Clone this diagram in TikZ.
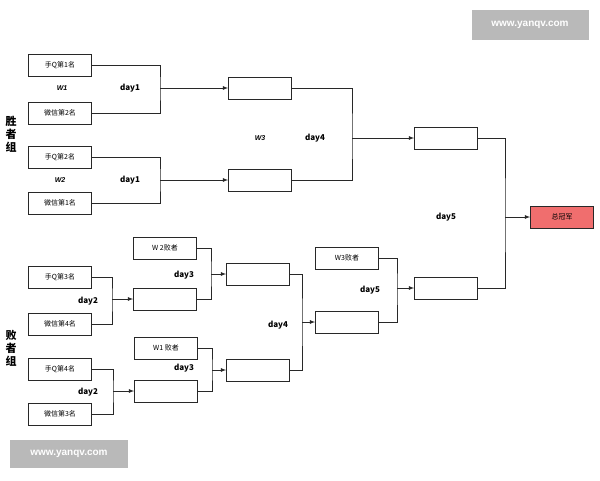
\documentclass[tikz,border=0pt]{standalone}
\usepackage{fontspec}
\setmainfont{Noto Sans CJK SC}
\newfontfamily\latina{Liberation Sans}
\usepackage{xcolor}
\usetikzlibrary{positioning}
\definecolor{Rojo}{RGB}{240, 110, 110}
\definecolor{Gris}{RGB}{185, 185, 185}
\definecolor{Linea}{RGB}{40, 40, 40}
\tikzset{
  caja/.style={draw=Linea, thick, minimum width=63pt, minimum height=22pt, inner sep=0pt, font=\fontsize{7}{8}\selectfont},
  dia/.style={font=\fontsize{8}{9}\selectfont\bfseries},
  juego/.style={font=\latina\fontsize{7}{8}\selectfont\bfseries\itshape},
  flecha/.style={draw=Linea, thick, -latex},
  rama/.style={draw=Linea, thick},
  marca/.style={fill=Gris, text=white, font=\latina\fontsize{10}{12}\selectfont\bfseries, minimum height=30pt}
}
\begin{document}
\begin{tikzpicture}[x=1pt, y=-1pt]
            \useasboundingbox (0,0) rectangle (600,480);
            %Grupo de ganadores
            \node[caja] (Q1) at (60,65) {手Q第1名};
            \node[caja] (X2) at (60,113) {微信第2名};
            \node[caja] (Q2) at (60,157) {手Q第2名};
            \node[caja] (X1) at (60,203) {微信第1名};
            \node[juego] (W1) at (62,88) {W1};
            \node[juego] (W2) at (60,180) {W2};
            \node[dia] (D1a) at (130,88) {day1};
            \node[dia] (D1b) at (130,180) {day1};
            \node[caja] (A) at (260,88) {};
            \node[caja] (B) at (260,180) {};
            \coordinate (jA) at (160,88);
            \coordinate (jB) at (160,180);
            \draw[rama] (Q1) -| (jA) |- (X2);
            \draw[rama] (Q2) -| (jB) |- (X1);
            \draw[flecha] (jA) -- (A);
            \draw[flecha] (jB) -- (B);
            \node[juego] (W3) at (260,138) {W3};
            \node[dia] (D4a) at (315,138) {day4};
            \node[caja] (C) at (446,138) {};
            \coordinate (jC) at (352,138);
            \draw[rama] (A) -| (jC) |- (B);
            \draw[flecha] (jC) -- (C);
            %Grupo de perdedores
            \node[caja] (LW2) at (165,248) {W 2败者};
            \node[caja] (Q3) at (60,277) {手Q第3名};
            \node[caja] (X4) at (60,324) {微信第4名};
            \node[dia] (D2a) at (88,301) {day2};
            \node[caja] (E) at (165,299) {};
            \coordinate (jE) at (112,299);
            \draw[rama] (Q3) -| (jE) |- (X4);
            \draw[flecha] (jE) -- (E);
            \node[dia] (D3a) at (184,275) {day3};
            \node[caja] (F) at (258,274) {};
            \coordinate (jF) at (211,274);
            \draw[rama] (LW2) -| (jF) |- (E);
            \draw[flecha] (jF) -- (F);
            \node[caja] (LW1) at (166,348) {W1 败者};
            \node[caja] (Q4) at (60,369) {手Q第4名};
            \node[caja] (X3) at (60,414) {微信第3名};
            \node[dia] (D2b) at (88,392) {day2};
            \node[caja] (G) at (166,391) {};
            \coordinate (jG) at (113,391);
            \draw[rama] (Q4) -| (jG) |- (X3);
            \draw[flecha] (jG) -- (G);
            \node[dia] (D3b) at (184,368) {day3};
            \node[caja] (H) at (258,370) {};
            \coordinate (jH) at (212,370);
            \draw[rama] (LW1) -| (jH) |- (G);
            \draw[flecha] (jH) -- (H);
            \node[dia] (D4b) at (278,325) {day4};
            \node[caja] (I) at (347,322) {};
            \coordinate (jI) at (302,322);
            \draw[rama] (F) -| (jI) |- (H);
            \draw[flecha] (jI) -- (I);
            \node[caja] (LW3) at (347,258) {W3败者};
            \node[dia] (D5a) at (370,290) {day5};
            \node[caja] (J) at (446,288) {};
            \coordinate (jJ) at (397,288);
            \draw[rama] (LW3) -| (jJ) |- (I);
            \draw[flecha] (jJ) -- (J);
            %Final
            \node[dia] (D5b) at (446,217) {day5};
            \node[caja, fill=Rojo] (K) at (562,217) {总冠军};
            \coordinate (jK) at (505,217);
            \draw[rama] (C) -| (jK) |- (J);
            \draw[flecha] (jK) -- (K);
            %Etiquetas laterales
            \node[font=\fontsize{11}{13}\selectfont\bfseries, align=center] (Gan) at (11,134) {胜\\者\\组};
            \node[font=\fontsize{11}{13}\selectfont\bfseries, align=center] (Per) at (11,348) {败\\者\\组};
            %Marcas de agua
            \node[marca, minimum width=117pt] (M1) at (530,25) {www.yanqv.com};
            \node[marca, minimum width=118pt, minimum height=28pt] (M2) at (69,454) {www.yanqv.com};
        \end{tikzpicture}
\end{document}
